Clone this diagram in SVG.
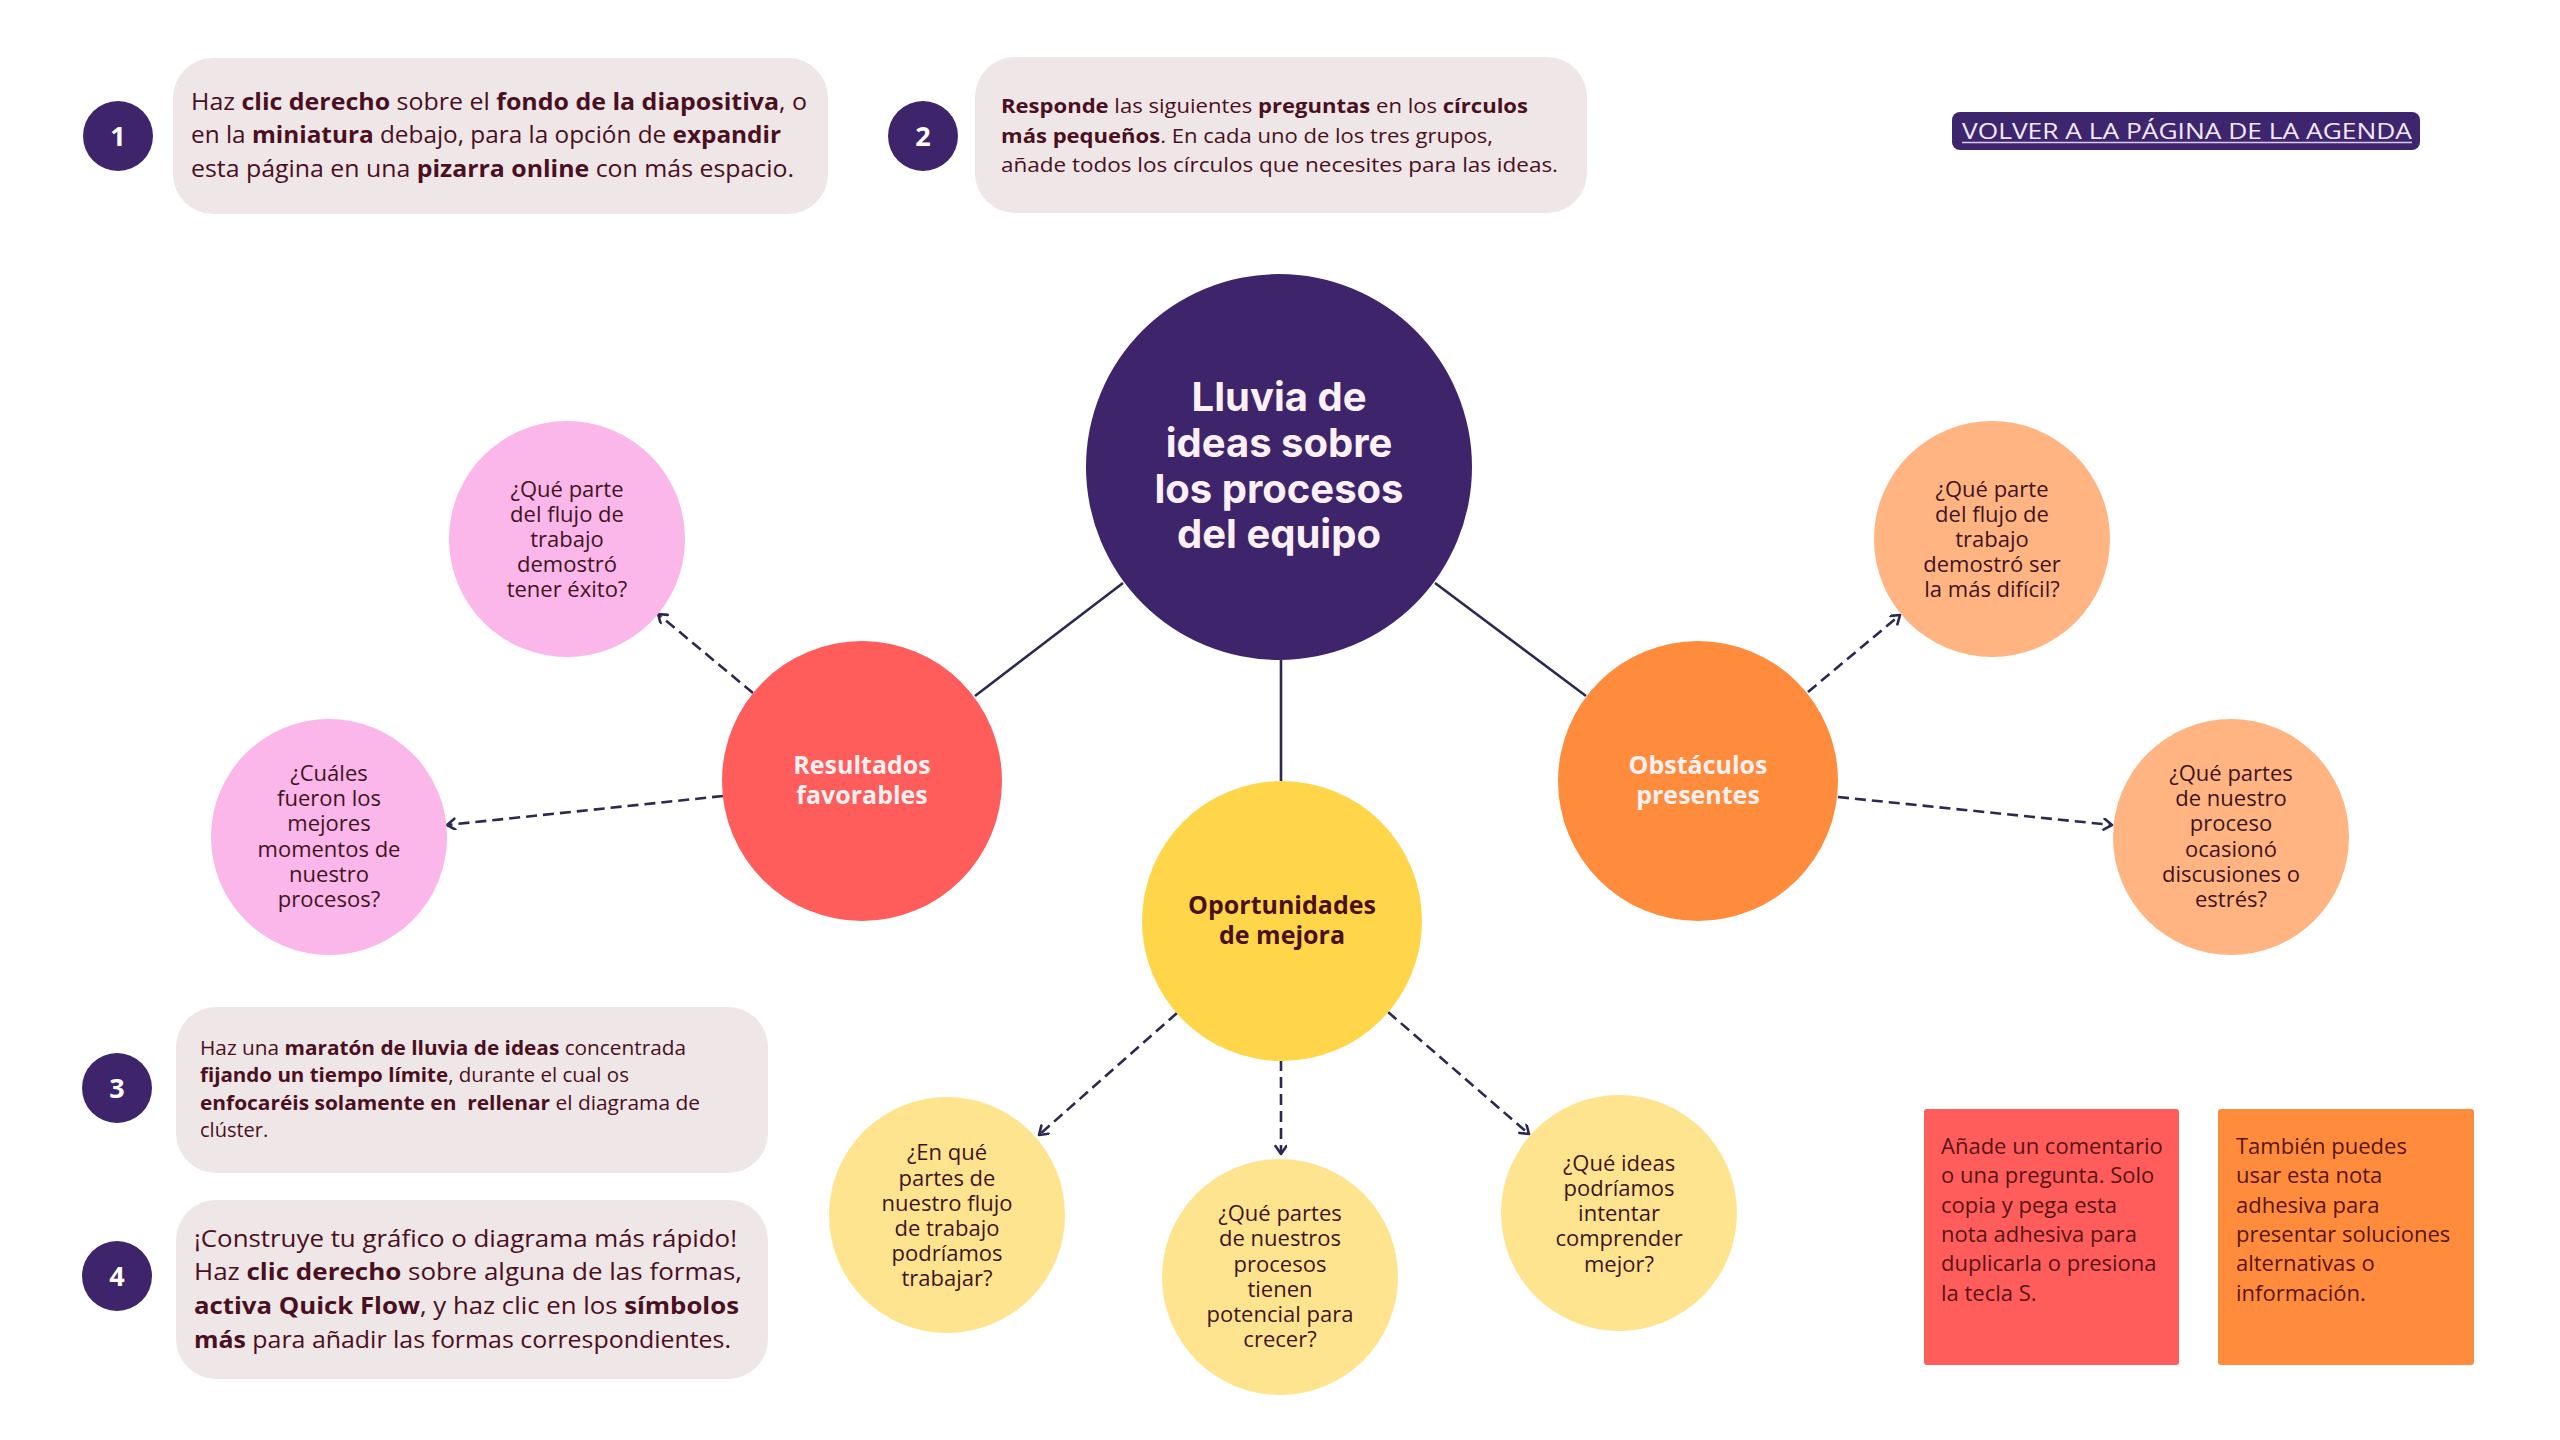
<svg xmlns="http://www.w3.org/2000/svg" width="2560" height="1440" viewBox="0 0 2560 1440">
<defs>
<marker id="chev" markerUnits="userSpaceOnUse" markerWidth="20" markerHeight="20" refX="10" refY="6" orient="auto">
<path d="M2,0.5 L10,6 L2,11.5" fill="none" stroke="#2b2950" stroke-width="2.6" stroke-linecap="round" stroke-linejoin="round"/>
</marker>
<style>
.box{fill:#efe6e7}
.num{fill:#3e246b}
.numt{font-family:"Open Sans","Liberation Sans",sans-serif;font-weight:700;font-size:27px;fill:#ffffff;text-anchor:middle}
.ins{font-family:"Open Sans","Liberation Sans",sans-serif;fill:#4a0f20}
.b{font-weight:700}
.q{font-family:"Open Sans","Liberation Sans",sans-serif;font-size:22px;fill:#3f1422;text-anchor:middle}
.mid{font-family:"Open Sans","Liberation Sans",sans-serif;font-size:25px;font-weight:700;text-anchor:middle}
.solid{stroke:#2b2950;stroke-width:2.6;fill:none}
.dash{stroke:#2b2950;stroke-width:2.6;fill:none;stroke-dasharray:11 6;marker-end:url(#chev)}
.note{font-family:"Open Sans","Liberation Sans",sans-serif;font-size:22px;fill:#5a1414}
</style>
</defs>
<rect width="2560" height="1440" fill="#ffffff"/>

<g id="step1">
<circle class="num" cx="118" cy="136" r="35"/>
<text class="numt" x="118" y="146">1</text>
<rect class="box" x="173" y="58" width="655" height="156" rx="40"/>
<text class="ins" font-size="23" x="191" y="110" textLength="616" lengthAdjust="spacingAndGlyphs">Haz <tspan class="b">clic derecho</tspan> sobre el <tspan class="b">fondo de la diapositiva</tspan>, o</text>
<text class="ins" font-size="23" x="191" y="143" textLength="590" lengthAdjust="spacingAndGlyphs">en la <tspan class="b">miniatura</tspan> debajo, para la opción de <tspan class="b">expandir</tspan></text>
<text class="ins" font-size="23" x="191" y="177" textLength="603" lengthAdjust="spacingAndGlyphs">esta página en una <tspan class="b">pizarra online</tspan> con más espacio.</text>
</g>

<g id="step2">
<circle class="num" cx="923" cy="136" r="35"/>
<text class="numt" x="923" y="146">2</text>
<rect class="box" x="975" y="57" width="612" height="156" rx="40"/>
<text class="ins" font-size="20" x="1001" y="113" textLength="527" lengthAdjust="spacingAndGlyphs"><tspan class="b">Responde</tspan> las siguientes <tspan class="b">preguntas</tspan> en los <tspan class="b">círculos</tspan></text>
<text class="ins" font-size="20" x="1001" y="143" textLength="492" lengthAdjust="spacingAndGlyphs"><tspan class="b">más pequeños</tspan>. En cada uno de los tres grupos,</text>
<text class="ins" font-size="20" x="1001" y="172" textLength="557" lengthAdjust="spacingAndGlyphs">añade todos los círculos que necesites para las ideas.</text>
</g>

<g id="back-button">
<rect x="1952" y="112" width="468" height="38" rx="8" fill="#3e266e"/>
<text x="1962" y="139" font-family="Open Sans, Liberation Sans, sans-serif" font-size="22" fill="#f4eaff" textLength="450" lengthAdjust="spacingAndGlyphs">VOLVER A LA PÁGINA DE LA AGENDA</text>
<line x1="1962" y1="142.5" x2="2412" y2="142.5" stroke="#d9c9f2" stroke-width="1.6"/>
</g>

<g id="step3">
<circle class="num" cx="117" cy="1088" r="35"/>
<text class="numt" x="117" y="1098">3</text>
<rect class="box" x="176" y="1007" width="592" height="166" rx="40"/>
<text class="ins" font-size="20" x="200" y="1055" textLength="486" lengthAdjust="spacingAndGlyphs">Haz una <tspan class="b">maratón de lluvia de ideas</tspan> concentrada</text>
<text class="ins" font-size="20" x="200" y="1082" textLength="429" lengthAdjust="spacingAndGlyphs"><tspan class="b">fijando un tiempo límite</tspan>, durante el cual os</text>
<text class="ins" font-size="20" x="200" y="1110" textLength="500" lengthAdjust="spacingAndGlyphs" style="white-space:pre"><tspan class="b">enfocaréis solamente en  rellenar</tspan> el diagrama de</text>
<text class="ins" font-size="20" x="200" y="1137">clúster.</text>
</g>

<g id="step4">
<circle class="num" cx="117" cy="1276" r="35"/>
<text class="numt" x="117" y="1286">4</text>
<rect class="box" x="176" y="1200" width="592" height="179" rx="40"/>
<text class="ins" font-size="24" x="194" y="1247" textLength="543" lengthAdjust="spacingAndGlyphs">¡Construye tu gráfico o diagrama más rápido!</text>
<text class="ins" font-size="24" x="194" y="1280" textLength="548" lengthAdjust="spacingAndGlyphs">Haz <tspan class="b">clic derecho</tspan> sobre alguna de las formas,</text>
<text class="ins" font-size="24" x="194" y="1314" textLength="545" lengthAdjust="spacingAndGlyphs"><tspan class="b">activa Quick Flow</tspan>, y haz clic en los <tspan class="b">símbolos</tspan></text>
<text class="ins" font-size="24" x="194" y="1348" textLength="537" lengthAdjust="spacingAndGlyphs"><tspan class="b">más</tspan> para añadir las formas correspondientes.</text>
</g>

<g id="connectors">
<line class="solid" x1="1123" y1="583" x2="975" y2="696"/>
<line class="solid" x1="1435" y1="583" x2="1586" y2="696"/>
<line class="solid" x1="1281" y1="660" x2="1281" y2="781"/>
<line class="dash" x1="753" y1="693" x2="658" y2="614"/>
<line class="dash" x1="723" y1="796" x2="447" y2="825"/>
<line class="dash" x1="1808" y1="692" x2="1900" y2="615"/>
<line class="dash" x1="1838" y1="797" x2="2112" y2="825"/>
<line class="dash" x1="1177" y1="1013" x2="1039" y2="1135"/>
<line class="dash" x1="1281" y1="1060" x2="1281" y2="1154"/>
<line class="dash" x1="1388" y1="1012" x2="1529" y2="1134"/>
</g>

<g id="central">
<circle cx="1279" cy="467" r="193" fill="#3e246b"/>
<g font-family="Inter, Open Sans, Liberation Sans, sans-serif" font-weight="700" font-size="40" fill="#fdf1f5" text-anchor="middle">
<text x="1279" y="411">Lluvia de</text>
<text x="1279" y="457">ideas sobre</text>
<text x="1279" y="503">los procesos</text>
<text x="1279" y="548">del equipo</text>
</g>
</g>

<g id="resultados">
<circle cx="862" cy="781" r="140" fill="#ff5c5c"/>
<text class="mid" fill="#fdf0f0" x="862" y="774">Resultados</text>
<text class="mid" fill="#fdf0f0" x="862" y="804">favorables</text>
</g>

<g id="obstaculos">
<circle cx="1698" cy="781" r="140" fill="#ff8c3d"/>
<text class="mid" fill="#fdf0f0" x="1698" y="774">Obstáculos</text>
<text class="mid" fill="#fdf0f0" x="1698" y="804">presentes</text>
</g>

<g id="oportunidades">
<circle cx="1282" cy="921" r="140" fill="#ffd64a"/>
<text class="mid" fill="#4b1020" x="1282" y="914">Oportunidades</text>
<text class="mid" fill="#4b1020" x="1282" y="944">de mejora</text>
</g>

<g id="q-exito">
<circle cx="567" cy="539" r="118" fill="#fbb6ea"/>
<text class="q" x="567" y="497">¿Qué parte</text>
<text class="q" x="567" y="522">del flujo de</text>
<text class="q" x="567" y="547">trabajo</text>
<text class="q" x="567" y="572">demostró</text>
<text class="q" x="567" y="597">tener éxito?</text>
</g>

<g id="q-mejores">
<circle cx="329" cy="837" r="118" fill="#fbb6ea"/>
<text class="q" x="329" y="781">¿Cuáles</text>
<text class="q" x="329" y="806">fueron los</text>
<text class="q" x="329" y="831">mejores</text>
<text class="q" x="329" y="857">momentos de</text>
<text class="q" x="329" y="882">nuestro</text>
<text class="q" x="329" y="907">procesos?</text>
</g>

<g id="q-dificil">
<circle cx="1992" cy="539" r="118" fill="#ffb482"/>
<text class="q" x="1992" y="497">¿Qué parte</text>
<text class="q" x="1992" y="522">del flujo de</text>
<text class="q" x="1992" y="547">trabajo</text>
<text class="q" x="1992" y="572">demostró ser</text>
<text class="q" x="1992" y="597">la más difícil?</text>
</g>

<g id="q-estres">
<circle cx="2231" cy="837" r="118" fill="#ffb482"/>
<text class="q" x="2231" y="781">¿Qué partes</text>
<text class="q" x="2231" y="806">de nuestro</text>
<text class="q" x="2231" y="831">proceso</text>
<text class="q" x="2231" y="857">ocasionó</text>
<text class="q" x="2231" y="882">discusiones o</text>
<text class="q" x="2231" y="907">estrés?</text>
</g>

<g id="q-trabajar">
<circle cx="947" cy="1215" r="118" fill="#ffe48f"/>
<text class="q" x="947" y="1160">¿En qué</text>
<text class="q" x="947" y="1186">partes de</text>
<text class="q" x="947" y="1211">nuestro flujo</text>
<text class="q" x="947" y="1236">de trabajo</text>
<text class="q" x="947" y="1261">podríamos</text>
<text class="q" x="947" y="1286">trabajar?</text>
</g>

<g id="q-crecer">
<circle cx="1280" cy="1277" r="118" fill="#ffe48f"/>
<text class="q" x="1280" y="1221">¿Qué partes</text>
<text class="q" x="1280" y="1246">de nuestros</text>
<text class="q" x="1280" y="1272">procesos</text>
<text class="q" x="1280" y="1297">tienen</text>
<text class="q" x="1280" y="1322">potencial para</text>
<text class="q" x="1280" y="1347">crecer?</text>
</g>

<g id="q-comprender">
<circle cx="1619" cy="1213" r="118" fill="#ffe48f"/>
<text class="q" x="1619" y="1171">¿Qué ideas</text>
<text class="q" x="1619" y="1196">podríamos</text>
<text class="q" x="1619" y="1221">intentar</text>
<text class="q" x="1619" y="1246">comprender</text>
<text class="q" x="1619" y="1272">mejor?</text>
</g>

<g id="note-red">
<rect x="1924" y="1109" width="255" height="256" rx="3" fill="#ff5c5c"/>
<text class="note" x="1941" y="1154">Añade un comentario</text>
<text class="note" x="1941" y="1183">o una pregunta. Solo</text>
<text class="note" x="1941" y="1213">copia y pega esta</text>
<text class="note" x="1941" y="1242">nota adhesiva para</text>
<text class="note" x="1941" y="1271">duplicarla o presiona</text>
<text class="note" x="1941" y="1301">la tecla S.</text>
</g>

<g id="note-orange">
<rect x="2218" y="1109" width="256" height="256" rx="3" fill="#ff8c3c"/>
<text class="note" x="2236" y="1154">También puedes</text>
<text class="note" x="2236" y="1183">usar esta nota</text>
<text class="note" x="2236" y="1213">adhesiva para</text>
<text class="note" x="2236" y="1242">presentar soluciones</text>
<text class="note" x="2236" y="1271">alternativas o</text>
<text class="note" x="2236" y="1301">información.</text>
</g>
</svg>
